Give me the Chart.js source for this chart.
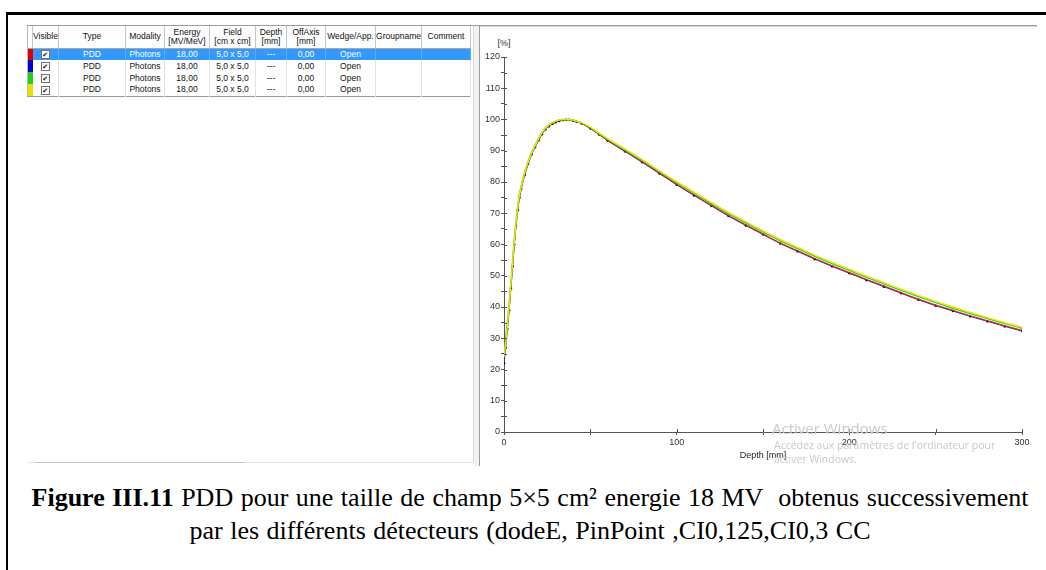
<!DOCTYPE html>
<html lang="fr">

<head>
  <meta charset="UTF-8" />
  <title>PDD 5x5 18 MV</title>
  <style>
    * {
      margin: 0;
      padding: 0;
      box-sizing: border-box;
    }

    body {
      width: 1046px;
      height: 570px;
      overflow: hidden;
      background: #fff;
      position: relative;
      font-family: 'Liberation Sans', Arial, sans-serif;
    }

    .frame {
      position: absolute;
      left: 6px;
      top: 12px;
      width: 1100px;
      height: 600px;
      border-top: 3px solid #000;
      border-left: 2px solid #000;
    }

    .line {
      position: absolute;
    }

    #list {
      position: absolute;
      left: 27px;
      top: 26px;
      width: 443px;
      table-layout: fixed;
      border-collapse: collapse;
      font-size: 8.5px;
      color: #111;
      border-bottom: 1px solid #9a9a9a;
      border-left: 1px solid #b8b8b8;
    }

    #list th {
      height: 22px;
      font-weight: normal;
      line-height: 9px;
      text-align: center;
      border-right: 1px solid #c4c4c4;
      border-bottom: 1px solid #a8a8a8;
      background: #fdfdfd;
      overflow: hidden;
      white-space: nowrap;
    }

    #list td {
      height: 12px;
      line-height: 11px;
      text-align: center;
      border-right: 1px solid #e2e2e2;
      white-space: nowrap;
      overflow: hidden;
    }

    #list tr.sel td {
      background: #3399ff;
      color: #fff;
      border-right-color: #5aacff;
    }

    #list td.strip {
      border-right: none;
    }

    .cb {
      display: inline-block;
      width: 9px;
      height: 9px;
      border: 1px solid #707070;
      background: #fff;
      color: #111;
      font-family: 'DejaVu Sans', sans-serif;
      font-size: 7px;
      font-weight: bold;
      line-height: 8px;
      vertical-align: middle;
    }

    #pdd {
      position: absolute;
      left: 479px;
      top: 26px;
    }

    .unit {
      position: absolute;
      left: 496px;
      top: 38px;
      width: 16px;
      text-align: center;
      font-size: 9px;
      color: #333;
    }

    .watermark {
      position: absolute;
      left: 772px;
      top: 418px;
      width: 262px;
      height: 48px;
      overflow: hidden;
      color: #c9c9c9;
      font-family: 'Open Sans', 'Noto Sans', sans-serif;
    }

    .watermark .big {
      font-size: 15px;
      line-height: 20px;
    }

    .watermark .small {
      font-size: 10.5px;
      line-height: 14px;
      margin-left: 2px;
    }

    .caption {
      position: absolute;
      left: 20px;
      top: 481px;
      width: 1020px;
      text-align: center;
      white-space: nowrap;
      font-family: 'Liberation Serif', 'Times New Roman', serif;
      font-size: 26px;
      word-spacing: 1px;
      line-height: 33px;
      color: #000;
    }
  </style>
</head>

<body>
  <div class="frame"></div>

  <!-- bords de la capture -->
  <div class="line" style="left:27px;top:25px;width:1010px;height:1px;background:#9d9d9d"></div>
  <div class="line" style="left:479px;top:26px;width:558px;height:1px;background:#d6d6d6"></div>
  <div class="line" style="left:473px;top:26px;width:1px;height:436px;background:#d8d8d8"></div>
  <div class="line" style="left:474px;top:26px;width:5px;height:440px;background:#f2f2f2"></div>
  <div class="line" style="left:479px;top:25px;width:1px;height:441px;background:#9a9a9a"></div>
  <div class="line" style="left:27px;top:462px;width:447px;height:1px;background:#e4e4e4"></div>
  <div class="line" style="left:35px;top:462px;width:210px;height:1px;background:#c6c6c6"></div>

  <table id="list">
    <colgroup>
      <col style="width:5px">
      <col style="width:26px">
      <col style="width:67px">
      <col style="width:39px">
      <col style="width:45px">
      <col style="width:46px">
      <col style="width:31px">
      <col style="width:39px">
      <col style="width:50px">
      <col style="width:46px">
      <col style="width:49px">
    </colgroup>
    <thead>
      <tr>
        <th></th>
        <th>Visible</th>
        <th>Type</th>
        <th>Modality</th>
        <th>Energy<br>[MV/MeV]</th>
        <th>Field<br>[cm x cm]</th>
        <th>Depth<br>[mm]</th>
        <th>OffAxis<br>[mm]</th>
        <th>Wedge/App.</th>
        <th>Groupname</th>
        <th>Comment</th>
      </tr>
    </thead>
    <tbody id="rows"></tbody>
  </table>

  <div class="unit">[%]</div>
  <canvas id="pdd" width="558" height="440"></canvas>

  <div class="watermark">
    <div class="big">Activer Windows</div>
    <div class="small">Accédez aux paramètres de l'ordinateur pour</div>
    <div class="small">activer Windows.</div>
  </div>

  <div class="caption"><b>Figure III.11</b> PDD pour une taille de champ 5×5 cm² energie 18 MV&nbsp; obtenus successivement<br>par les différents détecteurs (dodeE, PinPoint ,CI0,125,CI0,3 CC</div>

  <script src="https://cdn.jsdelivr.net/npm/chart.js"></script>

  <script>
    // profondeur [mm]
    const depth = [0, 1, 2, 3, 4, 5, 6, 7, 8, 9,
      10, 12, 14, 16, 18, 20, 22, 24, 26, 28,
      30, 32, 34, 36, 38, 40, 42, 45, 50, 55,
      60, 70, 80, 90, 100, 110, 120, 130, 140, 150,
      160, 170, 180, 190, 200, 210, 220, 230, 240, 250,
      260, 270, 280, 290, 300];

    // dose relative [%] pour chaque courbe
    const pddRed = [25, 29, 34, 39.5, 46.5, 53.5, 60.5, 66.5, 71.5, 75.5,
      78, 82.5, 86, 89, 91.3, 93.5, 95.5, 97, 98, 98.8,
      99.3, 99.7, 99.9, 100, 99.9, 99.7, 99.4, 98.8, 97.2, 95.3,
      93.4, 90, 86.5, 82.9, 79.3, 75.9, 72.6, 69.3, 66.3, 63.4,
      60.5, 58, 55.5, 53.2, 51, 48.8, 46.7, 44.6, 42.5, 40.6,
      38.9, 37.2, 35.6, 34, 32.5];
    const pddBlue = [22, 27, 33, 39, 46, 53, 60, 66, 71, 75,
      77.8, 82.2, 85.8, 88.8, 91.1, 93.3, 95.3, 96.8, 97.8, 98.6,
      99.1, 99.5, 99.8, 99.9, 99.9, 99.6, 99.3, 98.7, 97.1, 95.2,
      93.2, 89.8, 86.3, 82.7, 79.1, 75.7, 72.4, 69.1, 66.1, 63.2,
      60.3, 57.8, 55.3, 53, 50.8, 48.6, 46.5, 44.4, 42.3, 40.4,
      38.7, 37, 35.4, 33.8, 32.3];
    const pddGreen = [25, 30, 35.5, 41, 48, 55, 62, 67.5, 72.5, 76.3,
      78.8, 83.2, 86.6, 89.5, 91.8, 94, 95.9, 97.3, 98.3, 99,
      99.5, 99.8, 100, 100, 99.9, 99.7, 99.4, 98.9, 97.4, 95.5,
      93.7, 90.3, 86.9, 83.3, 79.8, 76.4, 73.1, 69.9, 66.9, 64,
      61.2, 58.7, 56.2, 53.9, 51.7, 49.5, 47.4, 45.3, 43.3, 41.4,
      39.6, 37.9, 36.3, 34.7, 33.2];
    const pddYellow = [24, 28.5, 34.5, 40.5, 47.5, 54.5, 61.5, 67, 72, 76,
      78.5, 83, 86.4, 89.3, 91.6, 93.8, 95.8, 97.2, 98.2, 99,
      99.5, 99.8, 100, 100, 100, 99.8, 99.5, 99, 97.6, 95.7,
      93.9, 90.6, 87.2, 83.6, 80.1, 76.8, 73.5, 70.3, 67.3, 64.4,
      61.6, 59.1, 56.6, 54.3, 52.1, 49.9, 47.8, 45.7, 43.7, 41.8,
      40, 38.3, 36.6, 35, 33.5];

    // lignes du tableau
    const rowColors = ['#e00000', '#0000d0', '#22cc22', '#f0e000'];
    const rowCells = ['PDD', 'Photons', '18,00', '5,0 x 5,0', '---', '0,00', 'Open', '', ''];

    const tbody = document.getElementById('rows');
    rowColors.forEach((c, i) => {
      const tr = document.createElement('tr');
      if (i === 0) tr.className = 'sel';
      let html = `<td class="strip" style="background:${c}"></td><td><span class="cb">✔</span></td>`;
      rowCells.forEach(v => { html += `<td>${v}</td>`; });
      tr.innerHTML = html;
      tbody.appendChild(tr);
    });

    const toPoints = vals => depth.map((d, i) => ({ x: d, y: vals[i] }));

    // petits traits de graduation cote interieur
    const innerTicks = {
      id: 'innerTicks',
      afterDraw(chart) {
        const { ctx, chartArea: a, scales: { x, y } } = chart;
        ctx.save();
        ctx.strokeStyle = '#555';
        ctx.lineWidth = 1;
        ctx.beginPath();
        y.ticks.forEach(t => {
          const py = Math.round(y.getPixelForValue(t.value)) + 0.5;
          ctx.moveTo(a.left, py);
          ctx.lineTo(a.left + 3, py);
        });
        x.ticks.forEach(t => {
          const px = Math.round(x.getPixelForValue(t.value)) + 0.5;
          ctx.moveTo(px, a.bottom);
          ctx.lineTo(px, a.bottom - 3);
        });
        ctx.stroke();
        ctx.restore();
      }
    };

    const tickFont = { family: "'Liberation Sans Narrow', 'Liberation Sans', sans-serif", size: 9 };

    new Chart(document.getElementById('pdd'), {
      type: 'line',
      data: {
        datasets: [
          { label: 'CI0,3 CC', data: toPoints(pddYellow), borderColor: '#e8e800', borderWidth: 1.4, pointRadius: 0 },
          { label: 'CI0,125', data: toPoints(pddGreen), borderColor: '#33cc33', borderWidth: 1.4, pointRadius: 0 },
          { label: 'dodeE', data: toPoints(pddRed), borderColor: '#c82828', borderWidth: 1.2, pointRadius: 0 },
          {
            label: 'PinPoint', data: toPoints(pddBlue), borderColor: '#2a2aa0', borderWidth: 1,
            pointRadius: 1.2, pointBackgroundColor: '#111', pointBorderWidth: 0
          }
        ]
      },
      options: {
        responsive: false,
        animation: false,
        cubicInterpolationMode: 'monotone',
        layout: { padding: { left: 0, right: 15, top: 31, bottom: 0 } },
        plugins: { legend: { display: false }, tooltip: { enabled: false } },
        scales: {
          x: {
            type: 'linear',
            min: 0,
            max: 300,
            afterFit: s => { s.height = 34; },
            ticks: {
              stepSize: 50,
              autoSkip: false,
              maxRotation: 0,
              padding: 2,
              color: '#333',
              font: tickFont,
              callback: v => (v % 100 === 0 ? v : '')
            },
            grid: { drawOnChartArea: false, tickLength: 3, color: '#555' },
            border: { color: '#555' },
            title: {
              display: true,
              text: 'Depth [mm]',
              color: '#222',
              font: tickFont,
              padding: { top: 0, bottom: 5 }
            }
          },
          y: {
            min: 0,
            max: 120,
            afterFit: s => { s.width = 25; },
            ticks: {
              stepSize: 5,
              autoSkip: false,
              padding: 1,
              color: '#333',
              font: tickFont,
              callback: v => (v % 10 === 0 ? v : '')
            },
            grid: { drawOnChartArea: false, tickLength: 3, color: '#555' },
            border: { color: '#555' }
          }
        }
      },
      plugins: [innerTicks]
    });
  </script>

</body>

</html>
